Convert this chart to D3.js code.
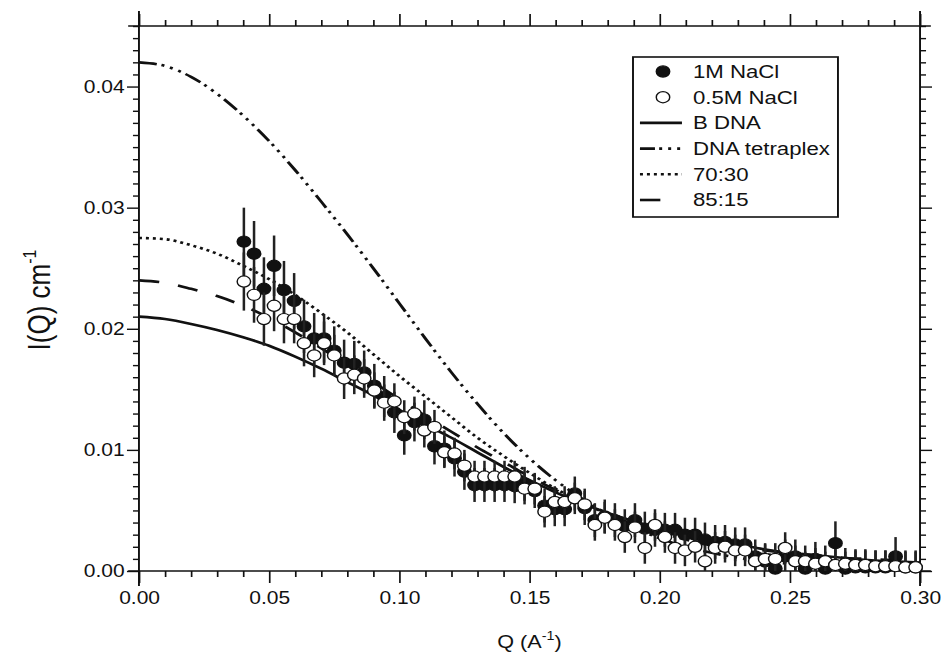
<!DOCTYPE html>
<html>
<head>
<meta charset="utf-8">
<script src="https://cdn.jsdelivr.net/npm/d3@7"></script>
<style>
  body { margin: 0; background: #fff; }
  text { font-family: "Liberation Sans", Arial, sans-serif; fill: #111; }
</style>
</head>
<body>
<div id="chart"></div>
<script>
// SAXS curves: I(Q) vs Q, two salt conditions + four model curves

// model curves, Q step 0.01 from 0 to 0.30
const modelQ = [0.00, 0.01, 0.02, 0.03, 0.04, 0.05, 0.06, 0.07, 0.08, 0.09,
  0.10, 0.11, 0.12, 0.13, 0.14, 0.15, 0.16, 0.17, 0.18, 0.19,
  0.20, 0.21, 0.22, 0.23, 0.24, 0.25, 0.26, 0.27, 0.28, 0.29, 0.30];
const bDNA = [0.0210, 0.0208, 0.0204, 0.0199, 0.0193, 0.0186, 0.0177, 0.0167, 0.0156, 0.0145,
  0.0133, 0.0121, 0.0110, 0.0098, 0.0086, 0.0075, 0.0065, 0.0056, 0.0048, 0.0041,
  0.0035, 0.0030, 0.0026, 0.0022, 0.0018, 0.0015, 0.0013, 0.0011, 0.0009, 0.0008, 0.0007];
const tetraplex = [0.0420, 0.0417, 0.0408, 0.0394, 0.0376, 0.0355, 0.0331, 0.0305, 0.0278, 0.0250,
  0.0221, 0.0192, 0.0164, 0.0138, 0.0114, 0.0093, 0.0075, 0.0060, 0.0047, 0.0036,
  0.0027, 0.0020, 0.0015, 0.0011, 0.0008, 0.0006, 0.0005, 0.0004, 0.0004, 0.0003, 0.0003];
const mix7030 = [0.0275, 0.0274, 0.0269, 0.0262, 0.0252, 0.0241, 0.0228, 0.0213, 0.0197, 0.0179,
  0.0161, 0.0144, 0.0127, 0.0110, 0.0095, 0.0081, 0.0068, 0.0057, 0.0047, 0.0039,
  0.0032, 0.0026, 0.0021, 0.0017, 0.0014, 0.0012, 0.0010, 0.0008, 0.0007, 0.0006, 0.0005];
const mix8515 = [0.0240, 0.0238, 0.0233, 0.0227, 0.0219, 0.0209, 0.0197, 0.0184, 0.0170, 0.0156,
  0.0142, 0.0128, 0.0115, 0.0102, 0.0090, 0.0078, 0.0067, 0.0057, 0.0048, 0.0041,
  0.0034, 0.0028, 0.0024, 0.0020, 0.0017, 0.0015, 0.0013, 0.0011, 0.0010, 0.0009, 0.0008];

// measured points
const dataQ = [0.0403, 0.0442, 0.0480, 0.0519, 0.0557, 0.0596, 0.0634, 0.0673, 0.0711, 0.0750,
  0.0788, 0.0827, 0.0865, 0.0904, 0.0942, 0.0981, 0.1019, 0.1058, 0.1096, 0.1135,
  0.1173, 0.1212, 0.1250, 0.1289, 0.1327, 0.1366, 0.1404, 0.1443, 0.1481, 0.1520,
  0.1558, 0.1597, 0.1635, 0.1674, 0.1712, 0.1751, 0.1789, 0.1828, 0.1866, 0.1905,
  0.1943, 0.1982, 0.2020, 0.2059, 0.2097, 0.2136, 0.2174, 0.2213, 0.2251, 0.2290,
  0.2328, 0.2367, 0.2405, 0.2444, 0.2482, 0.2521, 0.2559, 0.2598, 0.2636, 0.2675,
  0.2713, 0.2752, 0.2790, 0.2829, 0.2867, 0.2906, 0.2944, 0.2983];
const nacl1M = [0.0272, 0.0262, 0.0233, 0.0252, 0.0232, 0.0223, 0.0202, 0.0192, 0.0192, 0.0182,
  0.0172, 0.0171, 0.0164, 0.0153, 0.0144, 0.0131, 0.0112, 0.0123, 0.0125, 0.0103,
  0.0101, 0.0093, 0.0082, 0.0071, 0.0071, 0.0071, 0.0071, 0.0070, 0.0072, 0.0066,
  0.0054, 0.0051, 0.0051, 0.0064, 0.0052, 0.0042, 0.0045, 0.0042, 0.0037, 0.0042,
  0.0035, 0.0034, 0.0034, 0.0034, 0.0030, 0.0030, 0.0026, 0.0024, 0.0024, 0.0022,
  0.0022, 0.0012, 0.0008, 0.0002, 0.0012, 0.0012, 0.0002, 0.0010, 0.0002, 0.0023,
  0.0002, 0.0003, 0.0003, 0.0003, 0.0003, 0.0012, 0.0003, 0.0003];
const err1M = [0.0028, 0.0027, 0.0026, 0.0025, 0.0024, 0.0023, 0.0022, 0.0021, 0.0020, 0.0020,
  0.0019, 0.0019, 0.0018, 0.0018, 0.0017, 0.0017, 0.0016, 0.0016, 0.0016, 0.0015,
  0.0015, 0.0015, 0.0015, 0.0014, 0.0014, 0.0014, 0.0014, 0.0014, 0.0014, 0.0014,
  0.0014, 0.0014, 0.0014, 0.0014, 0.0014, 0.0014, 0.0014, 0.0014, 0.0014, 0.0014,
  0.0014, 0.0014, 0.0014, 0.0014, 0.0014, 0.0014, 0.0014, 0.0014, 0.0014, 0.0014,
  0.0014, 0.0014, 0.0014, 0.0014, 0.0014, 0.0014, 0.0014, 0.0014, 0.0014, 0.0018,
  0.0014, 0.0014, 0.0014, 0.0014, 0.0014, 0.0016, 0.0014, 0.0014];
const nacl05M = [0.0239, 0.0228, 0.0208, 0.0219, 0.0208, 0.0208, 0.0188, 0.0178, 0.0188, 0.0178,
  0.0159, 0.0162, 0.0159, 0.0149, 0.0139, 0.0140, 0.0127, 0.0130, 0.0116, 0.0119,
  0.0098, 0.0097, 0.0087, 0.0078, 0.0078, 0.0078, 0.0078, 0.0078, 0.0068, 0.0068,
  0.0049, 0.0057, 0.0057, 0.0060, 0.0055, 0.0038, 0.0044, 0.0038, 0.0028, 0.0036,
  0.0019, 0.0038, 0.0028, 0.0019, 0.0017, 0.0020, 0.0008, 0.0019, 0.0020, 0.0017,
  0.0017, 0.0008, 0.0010, 0.0010, 0.0019, 0.0008, 0.0008, 0.0006, 0.0008, 0.0005,
  0.0006, 0.0005, 0.0005, 0.0004, 0.0004, 0.0004, 0.0003, 0.0003];
const err05M = [0.0024, 0.0023, 0.0022, 0.0021, 0.0020, 0.0020, 0.0019, 0.0018, 0.0018, 0.0017,
  0.0017, 0.0016, 0.0016, 0.0015, 0.0015, 0.0015, 0.0014, 0.0014, 0.0014, 0.0014,
  0.0013, 0.0013, 0.0013, 0.0013, 0.0013, 0.0013, 0.0013, 0.0013, 0.0013, 0.0013,
  0.0013, 0.0013, 0.0013, 0.0013, 0.0013, 0.0013, 0.0013, 0.0013, 0.0013, 0.0013,
  0.0013, 0.0013, 0.0013, 0.0013, 0.0013, 0.0013, 0.0013, 0.0013, 0.0013, 0.0013,
  0.0013, 0.0013, 0.0013, 0.0013, 0.0013, 0.0013, 0.0013, 0.0013, 0.0013, 0.0013,
  0.0013, 0.0013, 0.0013, 0.0013, 0.0013, 0.0013, 0.0013, 0.0013];

const xTicks = [0.00, 0.05, 0.10, 0.15, 0.20, 0.25, 0.30];
const yTicks = [0.00, 0.01, 0.02, 0.03, 0.04];
const legendLabels = ["1M NaCl", "0.5M NaCl", "B DNA", "DNA tetraplex", "70:30", "85:15"];

// the picture is stretched sideways, so draw in a narrower box and stretch it
const stretch = 1.2;
const W = 941 / stretch;
const H = 661;
const margin = { top: 26, right: W - 766.7, bottom: H - 571, left: 115.8 };

const x = d3.scaleLinear().domain([0, 0.30]).range([margin.left, W - margin.right]);
const y = d3.scaleLinear().domain([0, 0.045]).range([H - margin.bottom, margin.top]);

const svg = d3.select("#chart").append("svg")
  .attr("width", 941)
  .attr("height", 661)
  .attr("viewBox", `0 0 ${W} ${H}`)
  .attr("preserveAspectRatio", "none");

const x0 = x.range()[0], x1 = x.range()[1];
const y0 = y.range()[0], y1 = y.range()[1];

const xMinor = d3.range(0, 31).map(i => i / 100).filter(v => Math.round(v * 100) % 5 !== 0);
const yMinor = d3.range(0, 46).map(i => i / 1000).filter(v => Math.round(v * 1000) % 10 !== 0);

function styleAxis(g) {
  g.select(".domain").remove();
  g.selectAll("line").attr("stroke", "#111").attr("stroke-width", 1.4);
  g.selectAll("text").attr("font-size", 17.5).attr("fill", "#222");
}

// bottom
svg.append("g").attr("transform", `translate(0,${y0})`)
  .call(d3.axisBottom(x).tickValues(xTicks).tickFormat(d3.format(".2f")).tickSize(12).tickPadding(9))
  .call(styleAxis);
svg.append("g").attr("transform", `translate(0,${y0})`)
  .call(d3.axisBottom(x).tickValues(xMinor).tickFormat("").tickSize(6))
  .call(styleAxis);
// top
svg.append("g").attr("transform", `translate(0,${y1})`)
  .call(d3.axisTop(x).tickValues(xTicks).tickFormat("").tickSize(12))
  .call(styleAxis);
svg.append("g").attr("transform", `translate(0,${y1})`)
  .call(d3.axisTop(x).tickValues(xMinor).tickFormat("").tickSize(6))
  .call(styleAxis);
// left
svg.append("g").attr("transform", `translate(${x0},0)`)
  .call(d3.axisLeft(y).tickValues(yTicks).tickFormat(d3.format(".2f")).tickSize(10).tickPadding(2))
  .call(styleAxis);
svg.append("g").attr("transform", `translate(${x0},0)`)
  .call(d3.axisLeft(y).tickValues(yMinor).tickFormat("").tickSize(5))
  .call(styleAxis);
// right
svg.append("g").attr("transform", `translate(${x1},0)`)
  .call(d3.axisRight(y).tickValues(yTicks).tickFormat("").tickSize(10))
  .call(styleAxis);
svg.append("g").attr("transform", `translate(${x1},0)`)
  .call(d3.axisRight(y).tickValues(yMinor).tickFormat("").tickSize(5))
  .call(styleAxis);

// frame, each side running a little past the corners
const ext = 9, extV = 15;
const frame = svg.append("g").attr("stroke", "#111").attr("stroke-width", 1.6);
frame.append("line").attr("x1", x0 - ext).attr("x2", x1 + ext).attr("y1", y0).attr("y2", y0);
frame.append("line").attr("x1", x0 - ext).attr("x2", x1 + ext).attr("y1", y1).attr("y2", y1);
frame.append("line").attr("x1", x0).attr("x2", x0).attr("y1", y1 - extV).attr("y2", y0 + extV);
frame.append("line").attr("x1", x1).attr("x2", x1).attr("y1", y1 - extV).attr("y2", y0 + extV);

// axis titles
svg.append("text")
  .attr("x", (x0 + x1) / 2).attr("y", 648)
  .attr("text-anchor", "middle").attr("font-size", 18)
  .html('Q (A<tspan dy="-8" font-size="12">-1</tspan><tspan dy="8">)</tspan>');
svg.append("text")
  .attr("transform", `translate(${50 / stretch},300) rotate(-90)`)
  .attr("text-anchor", "middle").attr("font-size", 26)
  .html('I(Q) cm<tspan dy="-12" font-size="16">-1</tspan>');

// model curves
const line = d3.line().x(d => x(d[0])).y(d => y(d[1])).curve(d3.curveMonotoneX);
const tetraDash = "15,4,2.5,5,2.5,5,2.5,4.5";
const dotDash = "2.5,3.3";
const longDash = "17,16";
const models = [
  { vals: bDNA, dash: null },
  { vals: tetraplex, dash: tetraDash },
  { vals: mix7030, dash: dotDash },
  { vals: mix8515, dash: longDash }
];

const plot = svg.append("g");
models.forEach(m => {
  plot.append("path")
    .datum(modelQ.map((q, i) => [q, m.vals[i]]))
    .attr("fill", "none")
    .attr("stroke", "#111")
    .attr("stroke-width", 2.6)
    .attr("stroke-dasharray", m.dash)
    .attr("d", line);
});

// measured series: error bars then markers
function drawSeries(vals, errs, filled) {
  const pts = dataQ.map((q, i) => ({ q: q, v: vals[i], e: errs[i] }));
  const g = plot.append("g");
  g.selectAll("line")
    .data(pts)
    .enter()
    .append("line")
    .attr("x1", d => x(d.q)).attr("x2", d => x(d.q))
    .attr("y1", d => y(Math.max(0, d.v - d.e)))
    .attr("y2", d => y(d.v + d.e))
    .attr("stroke", "#222")
    .attr("stroke-width", 2.1);
  g.selectAll("circle")
    .data(pts)
    .enter()
    .append("circle")
    .attr("cx", d => x(d.q))
    .attr("cy", d => y(d.v))
    .attr("r", 5.6)
    .attr("fill", filled ? "#111" : "#fff")
    .attr("stroke", "#111")
    .attr("stroke-width", 1.2);
}
drawSeries(nacl1M, err1M, true);
drawSeries(nacl05M, err05M, false);

// legend
const lg = svg.append("g");
lg.append("rect")
  .attr("x", 527.5).attr("y", 57)
  .attr("width", 170.8).attr("height", 160)
  .attr("fill", "#fff").attr("stroke", "#111").attr("stroke-width", 1.6);

const rowY = d3.scalePoint().domain(legendLabels).range([71.5, 200]);
const legendDash = [null, null, null, "12.5,3.5,2.5,5,2.5,5,2.5,4.5", dotDash, "17,40"];
legendLabels.forEach((name, i) => {
  const cy = rowY(name);
  if (i < 2) {
    lg.append("circle")
      .attr("cx", 552.5).attr("cy", cy).attr("r", 5.6)
      .attr("fill", i === 0 ? "#111" : "#fff")
      .attr("stroke", "#111").attr("stroke-width", 1.2);
  } else {
    lg.append("line")
      .attr("x1", 533.3).attr("x2", 568.3)
      .attr("y1", cy).attr("y2", cy)
      .attr("stroke", "#111").attr("stroke-width", 2.6)
      .attr("stroke-dasharray", legendDash[i]);
  }
  lg.append("text")
    .attr("x", 577.5).attr("y", cy)
    .attr("dy", "0.35em")
    .attr("font-size", 18.5)
    .text(name);
});
</script>
</body>
</html>
